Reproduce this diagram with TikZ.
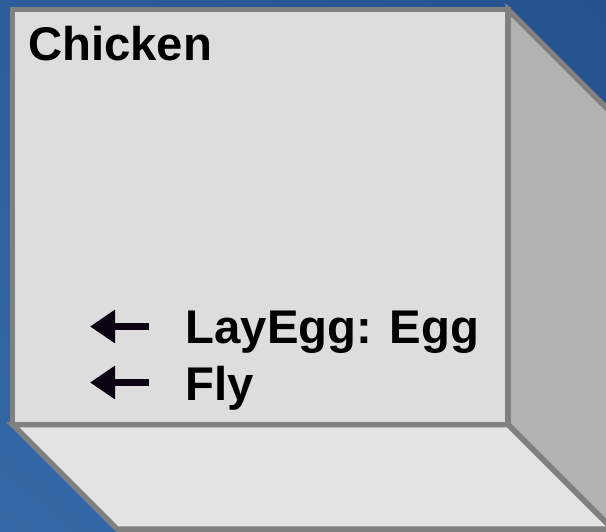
\documentclass[tikz,border=0pt]{standalone}
\usepackage{fontspec}
\setmainfont{Liberation Sans}
\usetikzlibrary{arrows.meta,positioning,shadings}
\definecolor{DeepBlue}{HTML}{22518E}
\definecolor{SkyBlue}{HTML}{3669A7}
\definecolor{MidBlue}{HTML}{2C5D9B}
\definecolor{FrontGray}{HTML}{DDDDDD}
\definecolor{SideGray}{HTML}{B2B2B2}
\definecolor{FloorGray}{HTML}{E3E3E3}
\definecolor{EdgeGray}{HTML}{808080}
\definecolor{Ink}{HTML}{0B0312}

\begin{document}
\begin{tikzpicture}[x=1pt,y=-1pt,
    face/.style={draw=EdgeGray,line width=5.5pt,line join=miter},
    label/.style={anchor=base west,inner sep=0pt,text=black,
      font=\fontsize{47.3}{56}\selectfont\bfseries},
    opnarrow/.style={Ink,line width=6.5pt,
      -{Triangle[length=25pt,width=32pt]}}]
        \useasboundingbox (0,0) rectangle (606,532);
        \clip (0,0) rectangle (606,532);
        % background
        \shade[upper left=MidBlue,upper right=DeepBlue,
          lower left=SkyBlue,lower right=MidBlue] (0,0) rectangle (606,532);

        % box faces
        \filldraw[face,fill=SideGray]
          (508,9.5)--(612.5,114)--(612.5,529)--(508,424.5)--cycle;
        \filldraw[face,fill=FloorGray]
          (12.5,424.5)--(508,424.5)--(612.5,529)--(117,529)--cycle;
        \filldraw[face,fill=FrontGray] (12.5,9.5) rectangle (508,424.5);

        \node[label] (chicken) at (28,60.5) {Chicken};
        \node[label] (layegg) at (185.5,343.5) {LayEgg: Egg};
        \node[label] (fly) at (185.5,400) {Fly};

        \foreach \op/\y in {layegg/326.5,fly/382.5} {
          \coordinate (\op-tail) at (149,\y);
          \coordinate (\op-tip) at (90,\y);
          \draw[opnarrow] (\op-tail)--(\op-tip);
        }
      \end{tikzpicture}
\end{document}
